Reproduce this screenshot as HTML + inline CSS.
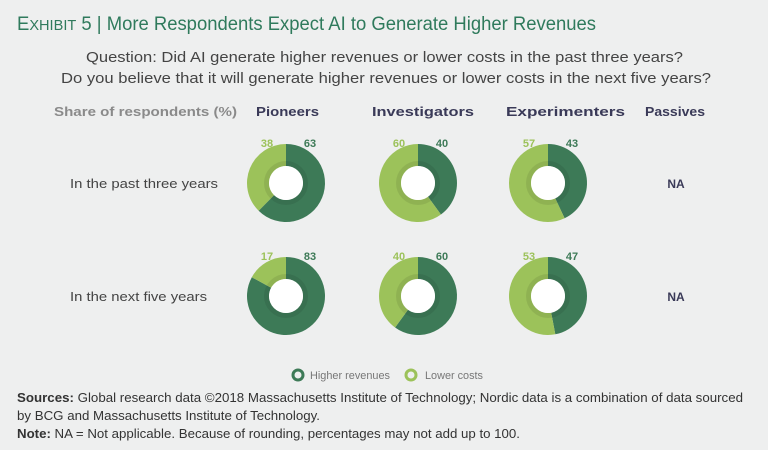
<!DOCTYPE html>
<html><head><meta charset="utf-8"><style>
body{margin:0;background:#eeefef;}
svg{display:block;font-family:"Liberation Sans",sans-serif;}
</style></head><body>
<svg id="c" width="768" height="450" viewBox="0 0 768 450">
<rect width="768" height="450" fill="#eeefef"/>
<text x="17" y="30" fill="#2f7a5c" font-size="19" textLength="579" lengthAdjust="spacingAndGlyphs">E<tspan font-size="15">XHIBIT</tspan> 5 | More Respondents Expect AI to Generate Higher Revenues</text>
<text x="86" y="62" fill="#444" font-size="15" textLength="597" lengthAdjust="spacingAndGlyphs">Question: Did AI generate higher revenues or lower costs in the past three years?</text>
<text x="61" y="83" fill="#444" font-size="15" textLength="650" lengthAdjust="spacingAndGlyphs">Do you believe that it will generate higher revenues or lower costs in the next five years?</text>
<text x="54" y="116" fill="#8a8a8a" font-size="13" font-weight="bold" textLength="183" lengthAdjust="spacingAndGlyphs">Share of respondents (%)</text>
<text x="256" y="116" fill="#3a3a58" font-size="13" font-weight="bold" textLength="63" lengthAdjust="spacingAndGlyphs">Pioneers</text>
<text x="372" y="116" fill="#3a3a58" font-size="13" font-weight="bold" textLength="102" lengthAdjust="spacingAndGlyphs">Investigators</text>
<text x="506" y="116" fill="#3a3a58" font-size="13" font-weight="bold" textLength="119" lengthAdjust="spacingAndGlyphs">Experimenters</text>
<text x="645" y="116" fill="#3a3a58" font-size="13" font-weight="bold" textLength="60" lengthAdjust="spacingAndGlyphs">Passives</text>
<text x="70" y="188" fill="#444" font-size="13" textLength="148" lengthAdjust="spacingAndGlyphs">In the past three years</text>
<text x="70" y="301" fill="#444" font-size="13" textLength="137" lengthAdjust="spacingAndGlyphs">In the next five years</text>
<text x="676" y="188" fill="#3a3a58" font-size="12" font-weight="bold" text-anchor="middle">NA</text>
<text x="676" y="301" fill="#3a3a58" font-size="12" font-weight="bold" text-anchor="middle">NA</text>
<g id="donuts"></g>
<g>
<circle cx="298" cy="375" r="5" fill="none" stroke="#3d7a57" stroke-width="3"/>
<text x="310" y="379" fill="#777" font-size="11" textLength="80" lengthAdjust="spacingAndGlyphs">Higher revenues</text>
<circle cx="411" cy="375" r="5" fill="none" stroke="#9cc25a" stroke-width="3"/>
<text x="425" y="379" fill="#777" font-size="11" textLength="58" lengthAdjust="spacingAndGlyphs">Lower costs</text>
</g>
<text x="17" y="402" fill="#333" font-size="13" textLength="726" lengthAdjust="spacingAndGlyphs"><tspan font-weight="bold">Sources:</tspan> Global research data ©2018 Massachusetts Institute of Technology; Nordic data is a combination of data sourced</text>
<text x="17" y="420" fill="#333" font-size="13" textLength="303" lengthAdjust="spacingAndGlyphs">by BCG and Massachusetts Institute of Technology.</text>
<text x="17" y="438" fill="#333" font-size="13" textLength="503" lengthAdjust="spacingAndGlyphs"><tspan font-weight="bold">Note:</tspan> NA = Not applicable. Because of rounding, percentages may not add up to 100.</text>
</svg>
<script>
const segments = ["pioneers","investigators","experimenters"];
const periods = ["past","next"];
const higherRevenues = [[63,40,43],[83,60,47]];
const lowerCosts = [[38,60,57],[17,40,53]];
const colX = [286,418,548], rowY = [183,296];
const NS="http://www.w3.org/2000/svg", g=document.getElementById('donuts');
function pt(cx,cy,r,f){const a=f*2*Math.PI-Math.PI/2;return [cx+r*Math.cos(a),cy+r*Math.sin(a)];}
function arc(cx,cy,R,r,f0,f1){
  if(f1-f0>=0.9999){f1=f0+0.9999;}
  const L=(f1-f0)>0.5?1:0,[a,b]=pt(cx,cy,R,f0),[c,d]=pt(cx,cy,R,f1),[e,f]=pt(cx,cy,r,f1),[h,i]=pt(cx,cy,r,f0);
  return `M${a},${b}A${R},${R} 0 ${L} 1 ${c},${d}L${e},${f}A${r},${r} 0 ${L} 0 ${h},${i}Z`;}
function mk(tag,attrs){const el=document.createElementNS(NS,tag);for(const k in attrs)el.setAttribute(k,attrs[k]);g.appendChild(el);return el;}
periods.forEach((p,ri)=>segments.forEach((s,ci)=>{
  const cx=colX[ci],cy=rowY[ri],hv=higherRevenues[ri][ci],lv=lowerCosts[ri][ci],tot=hv+lv,fh=hv/tot;
  const d=mk('path',{d:arc(cx,cy,39,17,0,fh),fill:'#3d7a57'});
  
  
  const l=mk('path',{d:arc(cx,cy,39,17,fh,1),fill:'#9cc25a'});
  
  
  const band=mk('circle',{cx:cx,cy:cy,r:19.5,fill:'none',stroke:'#000','stroke-opacity':0.08,'stroke-width':5});
  
  
  const hole=mk('circle',{cx:cx,cy:cy,r:17,fill:'#ffffff'});
  
  
  const t1=mk('text',{x:cx+24,y:cy-36,'font-size':11,'font-weight':'bold',fill:'#3d7a57','text-anchor':'middle'});
  t1.textContent=hv;
  
  
  const t2=mk('text',{x:cx-19,y:cy-36,'font-size':11,'font-weight':'bold',fill:'#9cc25a','text-anchor':'middle'});
  t2.textContent=lv;
  
  
}));
</script>
</body></html>
